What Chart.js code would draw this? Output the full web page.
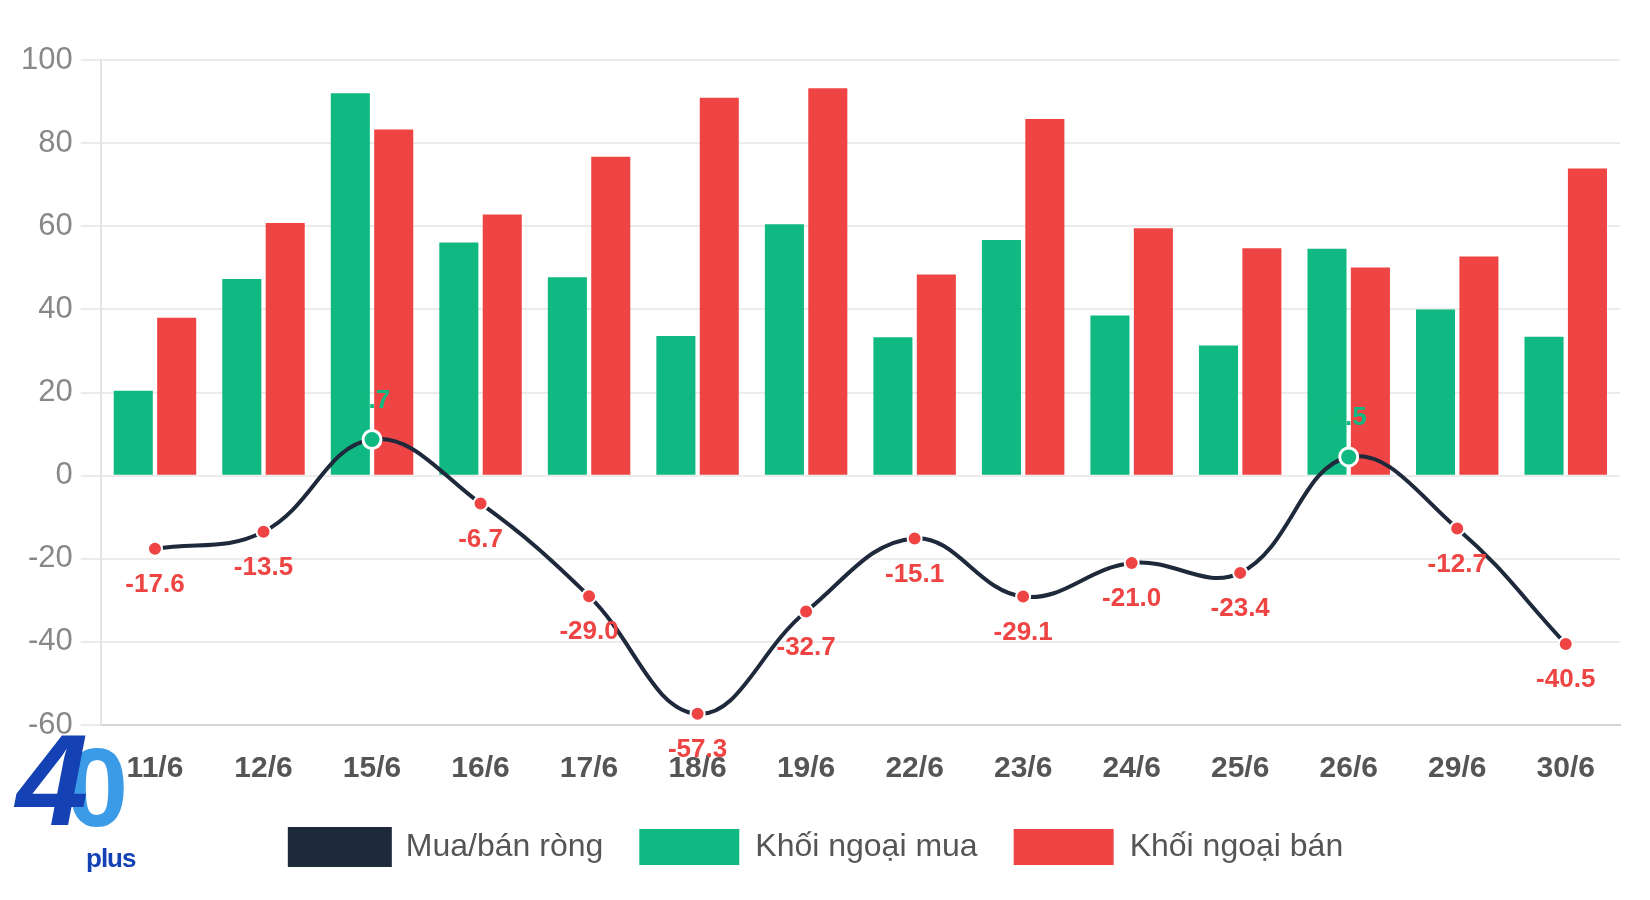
<!DOCTYPE html>
<html>
<head>
<meta charset="utf-8">
<script src="https://cdn.jsdelivr.net/npm/chart.js@4.4.1/dist/chart.umd.min.js"></script>
<style>
  body { margin: 0; background: #fff; font-family: Arial, "Liberation Sans", sans-serif; }
  #wrap { position: relative; width: 1650px; height: 900px; }
  #logo { position: absolute; left: 14px; top: 705px; width: 125px; height: 180px; }
  #logo .four { position: absolute; left: 2px; top: 0; font: italic bold 130px Arial, sans-serif; color: #1442b4; }
  #logo .zero { position: absolute; left: 52px; top: 18px; font: bold 112px Arial, sans-serif; color: #3b9be6; }
  #logo .plus { position: absolute; left: 72px; top: 138px; font: bold 26px Arial, sans-serif; color: #1442b4; letter-spacing: -1px; }
</style>
</head>
<body>
<div id="wrap">
  <canvas id="foreignTradeChart"></canvas>
  <div id="logo"><span class="zero">0</span><span class="four">4</span><span class="plus">plus</span></div>
</div>
<script>
// data
const days = ['11/6', '12/6', '15/6', '16/6', '17/6', '18/6', '19/6', '22/6', '23/6', '24/6', '25/6', '26/6', '29/6', '30/6'];
const netValues = [-17.6, -13.5, 8.7, -6.7, -29.0, -57.3, -32.7, -15.1, -29.1, -21.0, -23.4, 4.5, -12.7, -40.5];
const buyValues = [20.4, 47.3, 92.0, 56.1, 47.7, 33.6, 60.5, 33.3, 56.7, 38.5, 31.3, 54.6, 40.0, 33.4];
const sellValues = [38.0, 60.8, 83.3, 62.8, 76.7, 90.9, 93.2, 48.4, 85.8, 59.5, 54.7, 50.1, 52.7, 73.9];
const yTicks = [100, 80, 60, 40, 20, 0, -20, -40, -60];

const GREEN = '#10b981';
const RED = '#ef4444';
const NAVY = '#1e293b';

// value labels next to the net line points
const netLabels = {
    id: 'netLabels',
    afterDatasetsDraw(chart) {
        const ctx = chart.ctx;
        const meta = chart.getDatasetMeta(0);
        ctx.save();
        ctx.font = 'bold 26px Arial, "Liberation Sans", sans-serif';
        ctx.textAlign = 'center';
        ctx.textBaseline = 'middle';
        meta.data.forEach((pt, i) => {
            const v = netValues[i];
            ctx.fillStyle = v >= 0 ? GREEN : RED;
            const y = v >= 0 ? pt.y - 39 : pt.y + 36;
            ctx.fillText(v.toFixed(1), pt.x, y);
        });
        ctx.restore();
    }
};

const ctx = document.getElementById('foreignTradeChart').getContext('2d');

const foreignTradeChart = new Chart(ctx, {
    data: {
        labels: days,
        datasets: [{
            type: 'line',
            label: 'Mua/bán ròng',
            data: netValues,
            borderColor: NAVY,
            backgroundColor: NAVY,
            borderWidth: 4,
            tension: 0.4,
            order: 0,
            pointRadius: c => c.raw >= 0 ? 9 : 7,
            pointBorderWidth: c => c.raw >= 0 ? 3 : 2,
            pointBorderColor: '#fff',
            pointBackgroundColor: c => c.raw >= 0 ? GREEN : RED
        }, {
            type: 'bar',
            label: 'Khối ngoại mua',
            data: buyValues,
            backgroundColor: GREEN,
            order: 1
        }, {
            type: 'bar',
            label: 'Khối ngoại bán',
            data: sellValues,
            backgroundColor: RED,
            order: 1
        }]
    },
    options: {
        responsive: true,
        maintainAspectRatio: false,
        animation: false,
        layout: {
            padding: { left: 13, right: 30, top: 60, bottom: 25 }
        },
        plugins: {
            tooltip: { enabled: false },
            legend: {
                position: 'bottom',
                labels: {
                    boxWidth: 100,
                    boxHeight: 36,
                    padding: 36,
                    color: '#555',
                    font: { size: 32, family: 'Arial, "Liberation Sans", sans-serif' }
                }
            }
        },
        scales: {
            x: {
                grid: { display: false },
                border: { color: '#d4d4d4', width: 2 },
                afterFit: axis => { axis.height = 68; },
                ticks: {
                    color: '#555',
                    padding: 18,
                    font: { size: 30, weight: 'bold', family: 'Arial, "Liberation Sans", sans-serif' }
                }
            },
            y: {
                min: -60,
                max: 100,
                afterBuildTicks: axis => { axis.ticks = yTicks.map(v => ({ value: v })); },
                grid: { color: '#ebebeb', lineWidth: 2, tickLength: 20 },
                border: { color: '#e3e3e3', width: 2 },
                ticks: {
                    color: '#888',
                    padding: 8,
                    font: { size: 31, family: 'Arial, "Liberation Sans", sans-serif' }
                }
            }
        }
    },
    plugins: [netLabels]
});
</script>
</body>
</html>
